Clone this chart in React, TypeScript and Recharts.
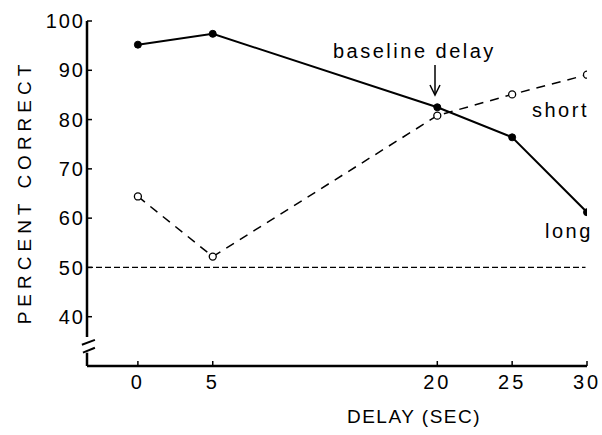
import { LineChart, Line, XAxis, YAxis, ReferenceLine, Customized } from "recharts";

// delay in seconds
const delays = [0, 5, 20, 25, 30];
// percent correct, trained with the long baseline delay (solid, filled dots)
const longCorrect = [95.2, 97.4, 82.5, 76.4, 61.2];
// percent correct, trained with the short baseline delay (dashed, open dots)
const shortCorrect = [64.4, 52.2, 80.8, 85.1, 89.1];

const xTicks = [0, 5, 20, 25, 30];
const yTicks = [40, 50, 60, 70, 80, 90, 100];
const CHANCE = 50;

const data = delays.map((d, i) => ({
  delay: d,
  long: longCorrect[i],
  short: shortCorrect[i],
}));

const FONT = "'Liberation Sans', Arial, Helvetica, sans-serif";

const OpenDot = (props: any) => {
  const { cx, cy } = props;
  if (cx == null || cy == null) return null;
  return <circle cx={cx} cy={cy} r={3.5} fill="#fff" stroke="#000" strokeWidth={1.3} />;
};

const FilledDot = (props: any) => {
  const { cx, cy } = props;
  if (cx == null || cy == null) return null;
  return <circle cx={cx} cy={cy} r={3.5} fill="#000" stroke="#000" />;
};

function Annotations() {
  return (
    <g fontFamily={FONT} fill="#000">
      <text
        x={0}
        y={0}
        transform="translate(31 192) rotate(-90)"
        textAnchor="middle"
        fontSize={19}
        letterSpacing={5}
      >
        PERCENT CORRECT
      </text>
      <text x={414} y={423} textAnchor="middle" fontSize={19} letterSpacing={1.5}>
        DELAY (SEC)
      </text>
      <text x={333} y={58} fontSize={20} letterSpacing={2.5}>
        baseline delay
      </text>
      <line x1={435} y1={65} x2={435} y2={94} stroke="#000" strokeWidth={1.5} />
      <path d="M430 85 L435 95 L440 85" fill="none" stroke="#000" strokeWidth={1.5} />
    </g>
  );
}

const seriesLabel: React.CSSProperties = {
  position: "absolute",
  fontFamily: FONT,
  fontSize: 20,
  lineHeight: "20px",
  letterSpacing: 2.5,
  whiteSpace: "nowrap",
};

export default function App() {
  return (
    <div style={{ position: "absolute", left: 0, top: 0, width: 602, height: 435, background: "#fff" }}>
      <LineChart
        width={602}
        height={435}
        data={data}
        margin={{ top: 21, right: 15, left: 0, bottom: 0 }}
      >
        <XAxis
          dataKey="delay"
          type="number"
          domain={[-3.4, 30]}
          ticks={xTicks}
          allowDataOverflow
          height={69}
          axisLine={{ stroke: "#000", strokeWidth: 2.5 }}
          tickLine={{ stroke: "#000", strokeWidth: 1.5 }}
          tickSize={-5}
          tickMargin={14}
          tick={{ fill: "#000", fontSize: 20, fontFamily: FONT, letterSpacing: 3 }}
        />
        <YAxis
          type="number"
          domain={[30, 100]}
          ticks={yTicks}
          allowDataOverflow
          width={87}
          axisLine={false}
          tickLine={{ stroke: "#000", strokeWidth: 1.5 }}
          tickSize={-5}
          tickMargin={7}
          tick={{ fill: "#000", fontSize: 20, fontFamily: FONT, letterSpacing: 2 }}
        />
        {/* y axis with a break near the bottom */}
        <ReferenceLine
          segment={[{ x: -3.4, y: 100 }, { x: -3.4, y: 35.9 }]}
          stroke="#000"
          strokeWidth={2.5}
          ifOverflow="visible"
        />
        <ReferenceLine
          segment={[{ x: -3.4, y: 32.7 }, { x: -3.4, y: 30 }]}
          stroke="#000"
          strokeWidth={2.5}
          ifOverflow="visible"
        />
        <ReferenceLine
          segment={[{ x: -3.74, y: 34.3 }, { x: -2.87, y: 35.3 }]}
          stroke="#000"
          strokeWidth={2}
          ifOverflow="visible"
        />
        <ReferenceLine
          segment={[{ x: -3.67, y: 32.7 }, { x: -2.87, y: 33.7 }]}
          stroke="#000"
          strokeWidth={2}
          ifOverflow="visible"
        />
        <ReferenceLine
          segment={[{ x: -3.4, y: CHANCE }, { x: 29.9, y: CHANCE }]}
          stroke="#000"
          strokeWidth={1.2}
          strokeDasharray="6 3"
          ifOverflow="visible"
        />
        <Line
          dataKey="short"
          stroke="#000"
          strokeWidth={1.5}
          strokeDasharray="9 7"
          dot={<OpenDot />}
          isAnimationActive={false}
        />
        <Line
          dataKey="long"
          stroke="#000"
          strokeWidth={2}
          dot={<FilledDot />}
          isAnimationActive={false}
        />
        <Customized component={Annotations} />
      </LineChart>
      <div style={{ ...seriesLabel, left: 532, top: 100 }}>short</div>
      <div style={{ ...seriesLabel, left: 545, top: 221 }}>long</div>
    </div>
  );
}
